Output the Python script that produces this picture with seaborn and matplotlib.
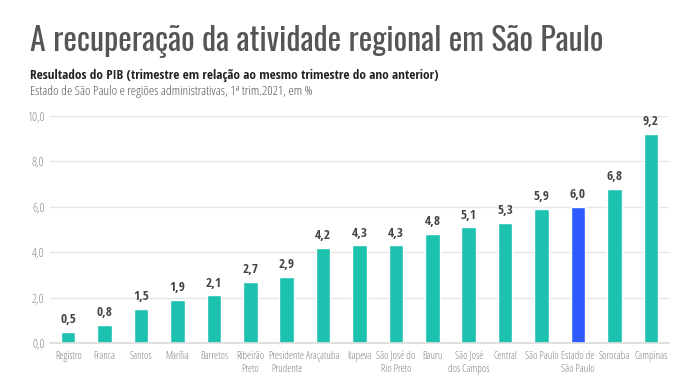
import matplotlib
matplotlib.use("Agg")
import matplotlib.pyplot as plt
import seaborn as sns
import pandas as pd
import numpy as np

regioes = ["Registro", "Franca", "Santos", "Marília", "Barretos", "Ribeirão\nPreto",
           "Presidente\nPrudente", "Araçatuba", "Itapeva", "São José do\nRio Preto",
           "Bauru", "São José\ndos Campos", "Central", "São Paulo", "Estado de\nSão Paulo",
           "Sorocaba", "Campinas"]
pib = [0.5, 0.8, 1.5, 1.9, 2.1, 2.7, 2.9, 4.2, 4.3, 4.3, 4.8, 5.1, 5.3, 5.9, 6.0, 6.8, 9.2]
destaque = "Estado de\nSão Paulo"

sns.set_theme(style="white")
# light condensed Open Sans for the plain text
plt.rcParams["font.family"] = ["Open Sans", "DejaVu Sans"]
plt.rcParams["font.stretch"] = "condensed"
plt.rcParams["font.weight"] = "light"
negrito = ["Open Sans Condensed", "DejaVu Sans"]

df = pd.DataFrame({"regiao": regioes, "pib": pib})
cores = {r: ("#2D5BFF" if r == destaque else "#1DC1B0") for r in regioes}

fig = plt.figure(figsize=(6.96, 3.89), dpi=100)
ax = fig.add_axes([50 / 696, 1 - 343 / 389, 619 / 696, 227 / 389])
sns.barplot(data=df, x="regiao", y="pib", hue="regiao", palette=cores,
            width=0.4, legend=False, ax=ax, saturation=1)

ax.set_ylim(0, 10)
ax.set_xlim(-0.5, len(regioes) - 0.5)
ax.set_yticks(np.arange(0, 11, 2))
ax.set_yticklabels([f"{v:.1f}".replace(".", ",") for v in np.arange(0, 11, 2)])
ax.yaxis.grid(True, color="#e6e6e6", linewidth=1)
ax.set_axisbelow(True)
for s in ["top", "right", "left"]:
    ax.spines[s].set_visible(False)
ax.spines["bottom"].set_color("#dddddd")
ax.tick_params(axis="y", labelsize=9, colors="#8a8a8a", length=0, pad=4)
ax.tick_params(axis="x", labelsize=7.5, colors="#808080", length=0, pad=6)
ax.set_xlabel("")
ax.set_ylabel("")

for i, v in enumerate(pib):
    ax.text(i, v + 0.25, f"{v:.1f}".replace(".", ","), ha="center", va="bottom",
            fontsize=9.5, fontweight="bold", color="#444444", family=negrito)

fig.text(30 / 696, 1 - 42 / 389, "A recuperação da atividade regional em São Paulo",
         fontsize=23, color="#555555", va="center", ha="left",
         family=["Oswald", "DejaVu Sans"], fontweight="normal", fontstretch="normal")
fig.text(30 / 696, 1 - 76 / 389,
         "Resultados do PIB (trimestre em relação ao mesmo trimestre do ano anterior)",
         fontsize=9.5, fontweight="bold", color="#222222", va="center", ha="left",
         family=negrito)
fig.text(30 / 696, 1 - 92 / 389,
         "Estado de São Paulo e regiões administrativas, 1ª trim.2021, em %",
         fontsize=9.5, color="#555555", va="center", ha="left")

fig.savefig("out.png", dpi=100)
